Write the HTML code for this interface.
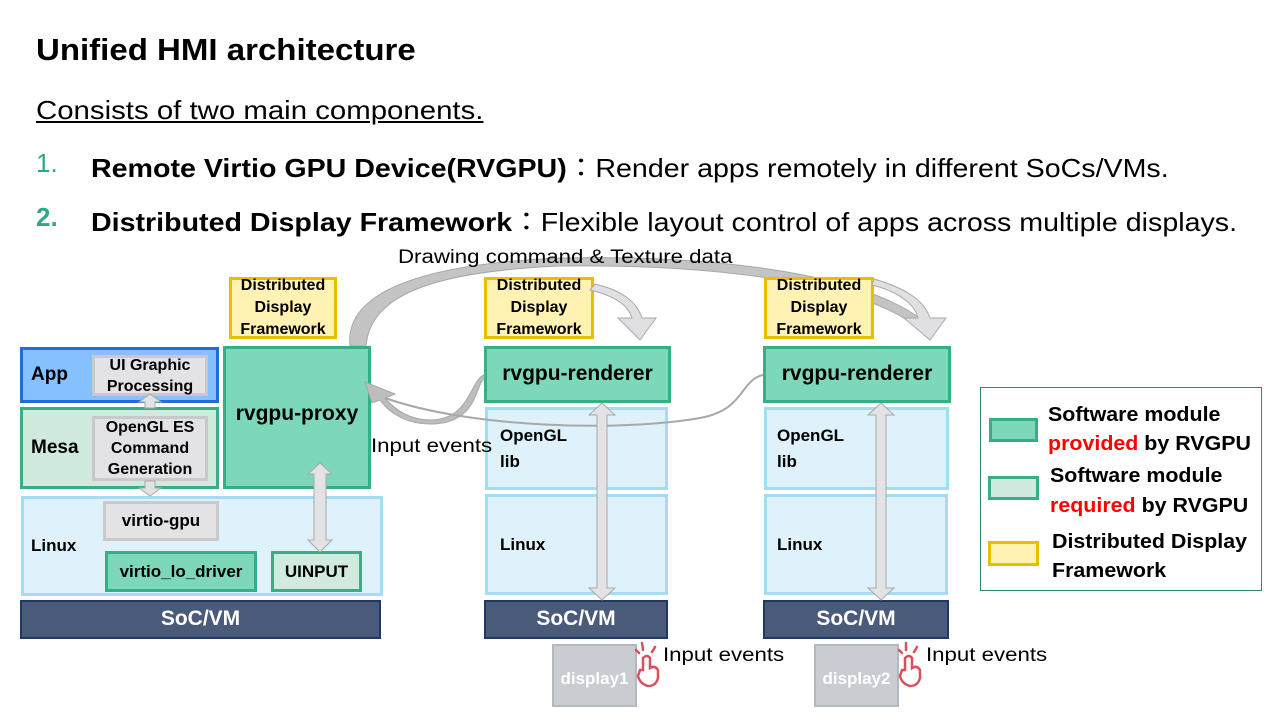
<!DOCTYPE html>
<html><head><meta charset="utf-8"><style>
*{margin:0;padding:0;box-sizing:border-box}
body{width:1280px;height:720px;background:#fff;position:relative;overflow:hidden;font-family:"Liberation Sans","Noto Sans CJK JP",sans-serif;color:#000}
.a{position:absolute}
.t{position:absolute;white-space:nowrap;transform-origin:0 0}
.box{position:absolute;display:flex;align-items:center;justify-content:center;text-align:center;font-weight:bold;line-height:1.25}
.g{background:#E3E3E6;border:3px solid #C9C9CC}
.prov{background:#7DD8BB;border:3px solid #36AE86}
.req{background:#D0EBDD;border:3px solid #36AE86}
.lin{background:#DFF1FA;border:3px solid #A3DDF3}
.soc{background:#4A5A7A;border:2px solid #1F3864;color:#fff;font-size:21px}
.ddf{background:#FFF2B3;border:3px solid #E6C000;font-size:16px;line-height:22px}
.disp{background:#C9CCD1;border:2px solid #B5B8BE;color:#fff;font-size:17px}
</style></head><body>
<div class="t" style="left:36px;top:32px;font-size:31px;font-weight:bold;transform:scaleX(1.065)">Unified HMI architecture</div>
<div class="t" style="left:36px;top:95px;font-size:26px;text-decoration:underline;transform:scaleX(1.13)">Consists of two main components.</div>
<div class="t" style="left:36px;top:148px;font-size:26px;color:#2FA888">1.</div>
<div class="t" style="left:91px;top:148px;font-size:26px;transform:scaleX(1.1)"><b>Remote Virtio GPU Device(RVGPU)</b>：Render apps remotely in different SoCs/VMs.</div>
<div class="t" style="left:36px;top:202px;font-size:26px;color:#2FA888;font-weight:bold">2.</div>
<div class="t" style="left:91px;top:202px;font-size:26px;transform:scaleX(1.1)"><b>Distributed Display Framework</b>：Flexible layout control of apps across multiple displays.</div>

<svg class="a" style="left:0;top:0" width="1280" height="720">
<g stroke="#A8A8A8" stroke-width="1">
<path d="M350,346 C345,300 400,265 560,258 C700,255 860,270 925,322 L918,328 C860,280 700,264 560,266 C420,272 370,300 366,346 Z" fill="#C4C4C4"/>
</g>
</svg>

<!-- left stack -->
<div class="box" style="left:20px;top:347px;width:199px;height:56px;background:#87C0FF;border:3px solid #1F6FD0;justify-content:flex-start;padding-left:8px;font-size:19px">App</div>
<div class="box g" style="left:92px;top:355px;width:116px;height:41px;font-size:16px;line-height:21px">UI Graphic<br>Processing</div>
<div class="box req" style="left:20px;top:407px;width:199px;height:82px;justify-content:flex-start;padding-left:8px;font-size:19px">Mesa</div>
<div class="box g" style="left:92px;top:416px;width:116px;height:65px;font-size:16px;line-height:21px">OpenGL ES<br>Command<br>Generation</div>
<div class="box lin" style="left:21px;top:496px;width:362px;height:100px;justify-content:flex-start;padding-left:7px;font-size:17px">Linux</div>
<div class="box g" style="left:103px;top:501px;width:116px;height:40px;font-size:17px">virtio-gpu</div>
<div class="box prov" style="left:105px;top:551px;width:152px;height:41px;font-size:17px">virtio_lo_driver</div>
<div class="box req" style="left:271px;top:551px;width:91px;height:41px;font-size:17px">UINPUT</div>
<div class="box soc" style="left:20px;top:600px;width:361px;height:39px">SoC/VM</div>
<div class="box prov" style="left:223px;top:346px;width:148px;height:143px;font-size:21px;padding-bottom:6px">rvgpu-proxy</div>
<div class="box ddf" style="left:229px;top:277px;width:108px;height:62px">Distributed<br>Display<br>Framework</div>

<!-- middle -->
<div class="box ddf" style="left:484px;top:277px;width:110px;height:62px">Distributed<br>Display<br>Framework</div>
<div class="box prov" style="left:484px;top:346px;width:187px;height:57px;font-size:21px">rvgpu-renderer</div>
<div class="box lin" style="left:485px;top:407px;width:183px;height:83px;justify-content:flex-start;padding-left:12px;font-size:17px;text-align:left;line-height:26px">OpenGL<br>lib</div>
<div class="box lin" style="left:485px;top:494px;width:183px;height:101px;justify-content:flex-start;padding-left:12px;font-size:17px">Linux</div>
<div class="box soc" style="left:484px;top:600px;width:184px;height:39px">SoC/VM</div>
<div class="box disp" style="left:552px;top:644px;width:85px;height:63px;padding-top:6px">display1</div>

<!-- right -->
<div class="box ddf" style="left:764px;top:277px;width:110px;height:62px">Distributed<br>Display<br>Framework</div>
<div class="box prov" style="left:763px;top:346px;width:188px;height:57px;font-size:21px">rvgpu-renderer</div>
<div class="box lin" style="left:764px;top:407px;width:185px;height:83px;justify-content:flex-start;padding-left:10px;font-size:17px;text-align:left;line-height:26px">OpenGL<br>lib</div>
<div class="box lin" style="left:764px;top:494px;width:184px;height:101px;justify-content:flex-start;padding-left:10px;font-size:17px">Linux</div>
<div class="box soc" style="left:763px;top:600px;width:186px;height:39px">SoC/VM</div>
<div class="box disp" style="left:814px;top:644px;width:85px;height:63px;padding-top:6px">display2</div>

<div class="t" style="left:371px;top:436px;font-size:19px;transform:scaleX(1.17)">Input events</div>
<div class="t" style="left:398px;top:247px;font-size:19px;transform:scaleX(1.17)">Drawing command &amp; Texture data</div>
<div class="t" style="left:663px;top:645px;font-size:19px;transform:scaleX(1.17)">Input events</div>
<div class="t" style="left:926px;top:645px;font-size:19px;transform:scaleX(1.17)">Input events</div>

<svg class="a" style="left:0;top:0" width="1280" height="720">
<g stroke="#A8A8A8" stroke-width="1">
<path d="M590,290 C615,296 628,305 632,318 L618,318 L640,340 L656,318 L642,318 C636,300 620,290 595,284 Z" fill="#E0E0E3"/>
<path d="M872,285 C900,292 915,305 918,318 L904,318 L930,340 L946,318 L930,318 C924,300 905,288 874,279 Z" fill="#E0E0E3"/>
<path d="M484,375 C470,380 470,420 430,420 C410,420 395,410 385,398 L395,394 L365,382 L372,403 L380,400 C390,415 410,424 430,424 C478,424 475,385 484,379 Z" fill="#BDBDBD"/>
<path d="M763,375 C740,380 745,410 700,418 C620,432 470,428 385,398" fill="none" stroke="#A8A8A8" stroke-width="2"/>
</g>
<g fill="#E3E3E6" stroke="#A8A8A8" stroke-width="1">
<path d="M150,394 L161,402 L155,402 L155,408 L145,408 L145,402 L139,402 Z"/>
<path d="M150,496 L161,488 L155,488 L155,481 L145,481 L145,488 L139,488 Z"/>
<path d="M320,463 L332,474 L326,474 L326,540 L332,540 L320,552 L308,540 L314,540 L314,474 L308,474 Z"/>
<path d="M602,403 L615,415 L607,415 L607,588 L615,588 L602,600 L589,588 L597,588 L597,415 L589,415 Z"/>
<path d="M881,403 L894,415 L886,415 L886,588 L894,588 L881,600 L868,588 L876,588 L876,415 L868,415 Z"/>
</g>
<g fill="none" stroke="#D9505C" stroke-width="2.5" stroke-linecap="round">
<path d="M643,670 L643,658 Q647,654 650,658 L650,668 Q655,665 658,670 L658,678 Q656,686 648,686 Q640,684 638,676 L640,670 Z"/>
<path d="M642,643 L643,650 M636,650 L639,653 M655,647 L652,652"/>
<path d="M905,670 L905,658 Q909,654 912,658 L912,668 Q917,665 920,670 L920,678 Q918,686 910,686 Q902,684 900,676 L902,670 Z"/>
<path d="M906,643 L906,650 M899,650 L902,653 M917,647 L914,652"/>
</g>
</svg>

<!-- legend -->
<div class="a" style="left:980px;top:387px;width:282px;height:204px;border:1.5px solid #2E8B6A"></div>
<div class="a prov" style="left:989px;top:418px;width:49px;height:24px"></div>
<div class="a req" style="left:988px;top:476px;width:51px;height:24px"></div>
<div class="a ddf" style="left:988px;top:541px;width:51px;height:25px"></div>
<div class="t" style="left:1048px;top:401px;font-size:20px;font-weight:bold;line-height:29px;transform:scaleX(1.07)">Software module<br><span style="color:#F00">provided</span> by RVGPU</div>
<div class="t" style="left:1050px;top:461px;font-size:20px;font-weight:bold;line-height:30px;transform:scaleX(1.07)">Software module<br><span style="color:#F00">required</span> by RVGPU</div>
<div class="t" style="left:1052px;top:528px;font-size:20px;font-weight:bold;line-height:29px;transform:scaleX(1.07)">Distributed Display<br>Framework</div>
</body></html>
